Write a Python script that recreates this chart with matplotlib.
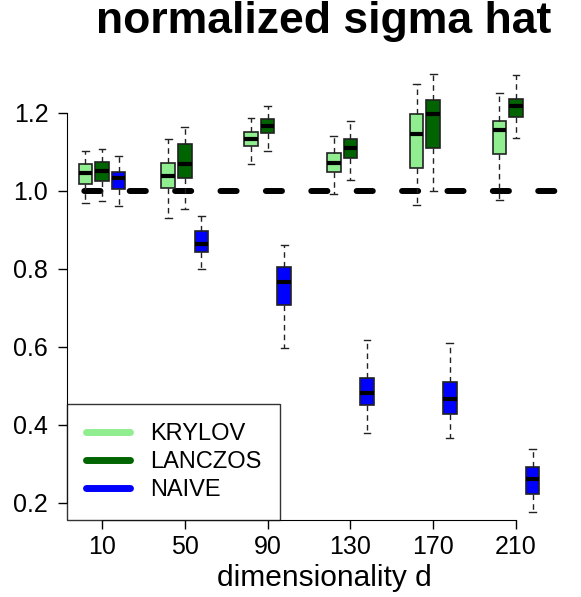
import numpy as np
import matplotlib.pyplot as plt

plt.rcParams['font.family'] = ['Liberation Sans', 'DejaVu Sans']

# dimensionalities
dims = [10, 50, 90, 130, 170, 210]
methods = ['KRYLOV', 'LANCZOS', 'NAIVE']
kleuren = ['#90EE90', '#006400', '#0000FF']

# boxplot stats per method: whisker low, q1, median, q3, whisker high
krylov_lo = [0.968, 0.930, 1.069, 0.992, 0.963, 0.977]
krylov_q1 = [1.018, 1.008, 1.115, 1.048, 1.058, 1.095]
krylov_med = [1.046, 1.038, 1.133, 1.071, 1.146, 1.155]
krylov_q3 = [1.068, 1.071, 1.150, 1.097, 1.197, 1.179]
krylov_hi = [1.101, 1.133, 1.185, 1.139, 1.272, 1.250]

lanczos_lo = [0.974, 0.954, 1.101, 1.028, 1.000, 1.134]
lanczos_q1 = [1.024, 1.033, 1.148, 1.084, 1.108, 1.189]
lanczos_med = [1.051, 1.068, 1.165, 1.108, 1.197, 1.218]
lanczos_q3 = [1.074, 1.120, 1.184, 1.133, 1.233, 1.235]
lanczos_hi = [1.107, 1.162, 1.218, 1.178, 1.299, 1.296]

naive_lo = [0.960, 0.799, 0.597, 0.378, 0.365, 0.177]
naive_q1 = [1.004, 0.842, 0.707, 0.451, 0.428, 0.222]
naive_med = [1.032, 0.864, 0.767, 0.482, 0.466, 0.261]
naive_q3 = [1.048, 0.896, 0.805, 0.520, 0.509, 0.291]
naive_hi = [1.088, 0.934, 0.860, 0.617, 0.609, 0.337]

stats = {
    'KRYLOV': (krylov_lo, krylov_q1, krylov_med, krylov_q3, krylov_hi),
    'LANCZOS': (lanczos_lo, lanczos_q1, lanczos_med, lanczos_q3, lanczos_hi),
    'NAIVE': (naive_lo, naive_q1, naive_med, naive_q3, naive_hi),
}

fig = plt.figure(figsize=(5.81, 5.97), dpi=100)
ax = fig.add_axes([67/581, 77/597, 1 - 67/581, (520 - 56)/597])

verschuiving = [-8, 0, 8]
for m, kleur, dx in zip(methods, kleuren, verschuiving):
    lo, q1, med, q3, hi = stats[m]
    bxp_stats = [dict(whislo=lo[i], q1=q1[i], med=med[i], q3=q3[i], whishi=hi[i], fliers=[])
                 for i in range(len(dims))]
    ax.bxp(bxp_stats, positions=[d + dx for d in dims], widths=6.6,
           patch_artist=True, manage_ticks=False,
           boxprops=dict(facecolor=kleur, edgecolor='#222222', linewidth=1.2),
           medianprops=dict(color='black', linewidth=3, solid_capstyle='butt'),
           whiskerprops=dict(color='#222222', linewidth=1, linestyle=(0, (4, 3))),
           capprops=dict(color='#222222', linewidth=1), capwidths=3.3)

# referentielijn op 1
ax.axhline(1.0, color='black', linewidth=4.3, linestyle=(4.7, (2.7, 4.9)),
           dash_capstyle='round', zorder=1)

ax.set_xlim(-6.9, 241.4)
ax.set_ylim(0.156, 1.345)

for s in ['top', 'right']:
    ax.spines[s].set_visible(False)
ax.spines['left'].set_bounds(0.2, 1.2)
ax.spines['bottom'].set_bounds(10, 210)

ax.set_xticks(dims)
ax.set_xticklabels([str(d) for d in dims])
ax.set_yticks([0.2, 0.4, 0.6, 0.8, 1.0, 1.2])
ax.set_yticklabels(['0.2', '0.4', '0.6', '0.8', '1.0', '1.2'])
ax.tick_params(labelsize=18, length=6.5, width=1)
ax.tick_params(axis='y', pad=7)
ax.tick_params(axis='x', pad=4)
ax.set_xlabel('dimensionality d', fontsize=21.5, labelpad=4)
ax.set_title('normalized sigma hat', fontsize=32, fontweight='bold', pad=16.5)

handles = [plt.Line2D([], [], color=k, linewidth=5, solid_capstyle='round') for k in kleuren]
leg = ax.legend(handles, methods, loc='lower left', bbox_to_anchor=(0, 0),
                fontsize=17, frameon=True, fancybox=False, edgecolor='black',
                handlelength=1.85, handletextpad=0.85, labelspacing=0.26,
                borderpad=0.8, borderaxespad=0)
leg.get_frame().set_linewidth(1)

fig.savefig('out.png', dpi=100)
